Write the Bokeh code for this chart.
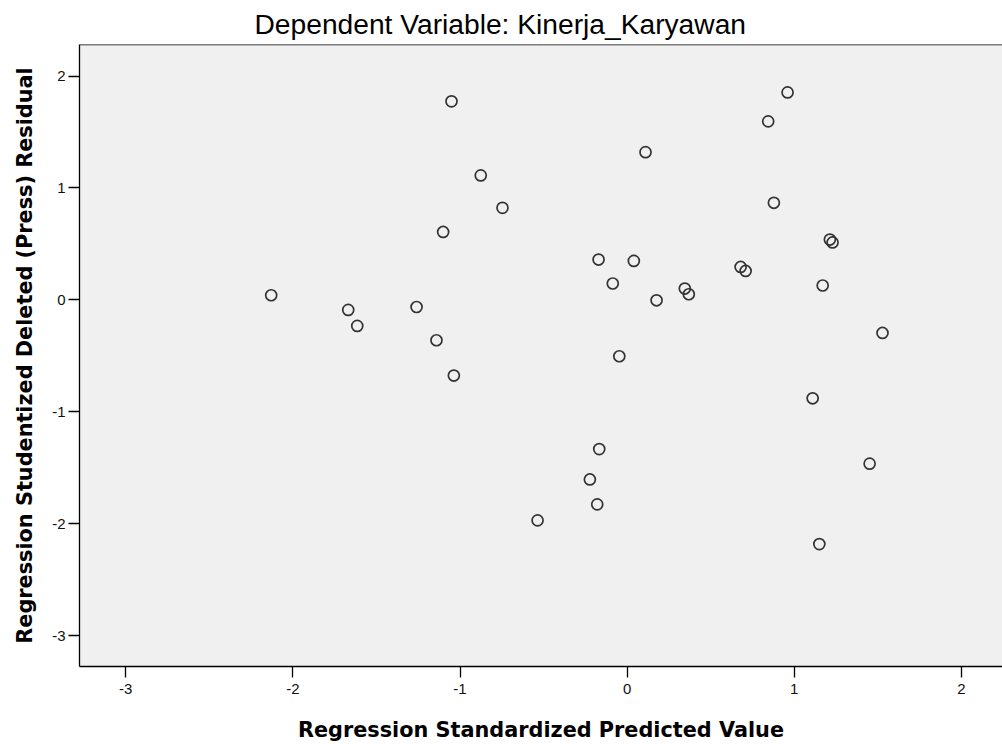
from bokeh.plotting import figure
from bokeh.models import Range1d, FixedTicker, Span
from bokeh.embed import file_html
from bokeh.resources import INLINE

pred_std = [-2.130, -1.669, -1.615, -1.260, -1.141, -1.101, -1.051, -1.037, -0.876, -0.746,
            -0.536, -0.223, -0.179, -0.171, -0.167, -0.086, -0.047, 0.040, 0.110, 0.176,
            0.345, 0.369, 0.679, 0.709, 0.844, 0.878, 0.960, 1.110, 1.150, 1.170,
            1.213, 1.229, 1.451, 1.528]
press_resid = [0.041, -0.090, -0.233, -0.064, -0.361, 0.607, 1.774, -0.677, 1.112, 0.822,
               -1.971, -1.605, -1.828, 0.360, -1.334, 0.146, -0.504, 0.348, 1.320, -0.004,
               0.101, 0.050, 0.294, 0.258, 1.595, 0.867, 1.854, -0.880, -2.183, 0.128,
               0.539, 0.513, -1.464, -0.296]
ticks = [-3, -2, -1, 0, 1, 2]
tick_labels = {t: str(t) for t in ticks}

title_text = "Dependent Variable: Kinerja_Karyawan"
x_label = "Regression Standardized Predicted Value"
y_label = "Regression Studentized Deleted (Press) Residual"

FONT = "Liberation Sans"
LABEL_FONT = "DejaVu Sans"

p = figure(width=1002, height=744, output_backend="svg", toolbar_location=None,
           x_range=Range1d(-3.277, 2.246), y_range=Range1d(-3.277, 2.282),
           min_border_left=79, min_border_right=0, min_border_top=44, min_border_bottom=78)

p.background_fill_color = "#f0f0f0"
p.border_fill_color = "white"
p.outline_line_color = None
p.grid.visible = False

p.title.text = title_text
p.title.align = "left"
p.title.offset = 175
p.title.standoff = 10
p.title.text_font = FONT
p.title.text_font_size = "28.2px"
p.title.text_font_style = "normal"
p.title.text_color = "black"

for ax in (p.xaxis[0], p.yaxis[0]):
    ax.ticker = FixedTicker(ticks=ticks)
    ax.major_label_overrides = tick_labels
    ax.axis_line_color = "black"
    ax.axis_line_width = 1.3
    ax.major_tick_line_color = "black"
    ax.major_tick_line_width = 1.3
    ax.major_tick_in = 0
    ax.major_tick_out = 11
    ax.minor_tick_line_color = None
    ax.major_label_text_font = FONT
    ax.major_label_text_font_size = "15px"
    ax.major_label_text_color = "#111111"
    ax.axis_label_text_font = LABEL_FONT
    ax.axis_label_text_font_size = "20.8px"
    ax.axis_label_text_font_style = "bold"
    ax.axis_label_text_color = "black"

p.xaxis.axis_label = x_label
p.yaxis.axis_label = y_label
p.xaxis.major_label_standoff = 6
p.xaxis.axis_label_standoff = 21
p.yaxis.major_label_standoff = 3
p.yaxis.axis_label_standoff = 12
p.yaxis.major_label_orientation = "horizontal"

top_border = Span(location=2.282, dimension="width", line_color="black", line_width=1.3)
p.add_layout(top_border)

p.scatter(pred_std, press_resid, marker="circle", size=11, fill_color=None,
          line_color="#333333", line_width=1.7)

open("out.html", "w").write(file_html(p, INLINE))
